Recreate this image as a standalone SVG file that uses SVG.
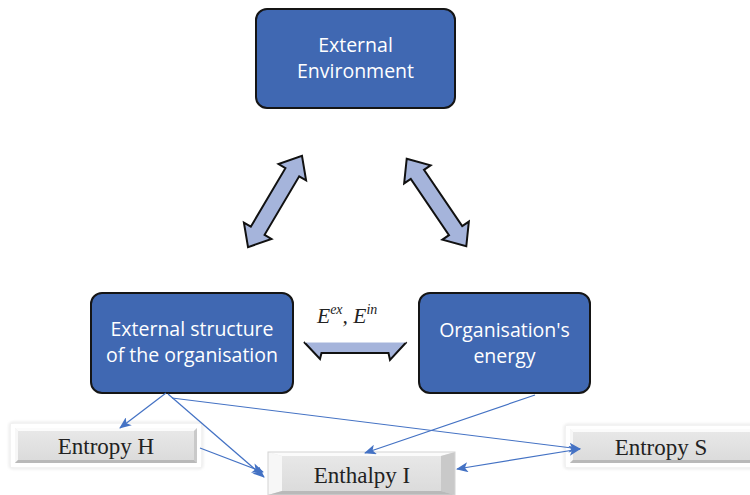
<svg xmlns="http://www.w3.org/2000/svg" width="750" height="495" viewBox="0 0 750 495">
  <style>
    .node { fill: #4068b2; stroke: #151515; stroke-width: 2; }
    .ntext { font-family: "Open Sans", "Noto Sans", sans-serif; font-size: 19.5px; fill: #ffffff; text-anchor: middle; }
    .bigarrow { fill: #a5b4db; stroke: #111111; stroke-width: 2; stroke-linejoin: miter; }
    .link { fill: none; stroke: #4472c4; stroke-width: 1.2; }
    .frame { fill: #ffffff; stroke: #dcdcdc; stroke-width: 1.5; }
    .face { fill: url(#face); }
    .lt { fill: #f7f7f7; }
    .tp { fill: #fbfbfb; }
    .rt { fill: #c9c9c9; }
    .bt { fill: #b9b9b9; }
    .ttext { font-family: "Liberation Serif", "Times New Roman", serif; font-size: 23px; fill: #222222; text-anchor: middle; }
    .math { font-family: "Liberation Serif", "Times New Roman", serif; font-style: italic; fill: #222222; }
  </style>
  <defs>
    <linearGradient id="face" x1="0" y1="0" x2="0" y2="1">
      <stop offset="0" stop-color="#e9e9e9"/>
      <stop offset="1" stop-color="#dadada"/>
    </linearGradient>
    <filter id="soft" x="-10%" y="-20%" width="120%" height="140%">
      <feGaussianBlur stdDeviation="1.5"/>
    </filter>
    <marker id="head" markerWidth="12" markerHeight="10" refX="11" refY="5" orient="auto" markerUnits="userSpaceOnUse">
      <path d="M0,0 L12,5 L0,10 L3,5 Z" fill="#4472c4"/>
    </marker>
    <marker id="tail" markerWidth="12" markerHeight="10" refX="1" refY="5" orient="auto" markerUnits="userSpaceOnUse">
      <path d="M12,0 L0,5 L12,10 L9,5 Z" fill="#4472c4"/>
    </marker>
    <path id="dbl" d="M-53,0 L-34,-16 L-34,-8 L34,-8 L34,-16 L53,0 L34,16 L34,8 L-34,8 L-34,16 Z"/>
  </defs>

  <!-- main blocks -->
  <g id="external-environment">
    <rect class="node" x="256" y="9" width="199" height="99" rx="11"/>
    <text class="ntext" x="355.5" y="52">External</text>
    <text class="ntext" x="355.5" y="78">Environment</text>
  </g>

  <g id="external-structure">
    <rect class="node" x="91" y="293" width="202" height="100" rx="11"/>
    <text class="ntext" x="192" y="336">External structure</text>
    <text class="ntext" x="192" y="362">of the organisation</text>
  </g>

  <g id="organisation-energy">
    <rect class="node" x="419" y="293" width="171" height="100" rx="11"/>
    <text class="ntext" x="504.5" y="337">Organisation's</text>
    <text class="ntext" x="504.5" y="363">energy</text>
  </g>

  <!-- state blocks -->
  <g id="entropy-h">
    <rect class="frame" x="10" y="423" width="192" height="45" rx="3" filter="url(#soft)"/>
    <rect x="11" y="424" width="190" height="43" fill="#ffffff"/>
    <rect class="face" x="15" y="428" width="182" height="35"/>
    <polygon class="tp" points="15,428 197,428 194,431 18,431"/>
    <polygon class="lt" points="15,428 18,431 18,460 15,463"/>
    <polygon class="rt" points="197,428 197,463 194,460 194,431"/>
    <polygon class="bt" points="15,463 18,460 194,460 197,463"/>
    <text class="ttext" x="106" y="454">Entropy H</text>
  </g>

  <g id="entropy-s">
    <rect class="frame" x="565" y="425" width="190" height="43" rx="3" filter="url(#soft)"/>
    <rect x="566" y="426" width="188" height="41" fill="#ffffff"/>
    <rect class="face" x="570" y="429" width="180" height="34"/>
    <polygon class="tp" points="570,429 750,429 750,432 573,432"/>
    <polygon class="lt" points="570,429 573,432 573,460 570,463"/>
    <polygon class="bt" points="570,463 573,460 750,460 750,463"/>
    <text class="ttext" x="661" y="455">Entropy S</text>
  </g>

  <g id="enthalpy-i">
    <rect class="face" x="268" y="452" width="187" height="43"/>
    <polygon class="tp" points="268,452 455,452 441,456 282,456"/>
    <polygon class="lt" points="268,452 282,456 282,491 268,495"/>
    <polygon class="rt" points="455,452 455,495 441,491 441,456"/>
    <polygon class="bt" points="268,495 282,491 441,491 455,495"/>
    <rect x="268" y="452" width="187" height="43" fill="none" stroke="#d4d4d4" stroke-width="1"/>
    <text class="ttext" x="362" y="483">Enthalpy I</text>
  </g>

  <!-- block arrows between the main blocks -->
  <g id="flows">
    <use href="#dbl" class="bigarrow" transform="translate(275,201.5) rotate(-59.4)"/>
    <use href="#dbl" class="bigarrow" transform="translate(436.5,202.5) rotate(55.8)"/>
    <path class="bigarrow" d="M304,342 L320,359 L321.5,353 L388.5,353 L390,360 L406.5,342" stroke-linejoin="miter"/>
    <rect x="305" y="341" width="101" height="1.5" fill="#ffffff"/>
    <text class="math" x="317" y="323" font-size="21.5">E<tspan font-size="14" dy="-9">ex</tspan><tspan font-size="21.5" dy="9">, E</tspan><tspan font-size="14" dy="-9">in</tspan></text>
  </g>

  <!-- connectors -->
  <g id="connectors">
    <line class="link" x1="166" y1="393" x2="120" y2="428" marker-end="url(#head)"/>
    <line class="link" x1="168" y1="394" x2="264" y2="477" marker-end="url(#head)"/>
    <line class="link" x1="200" y1="448" x2="263" y2="472" marker-end="url(#head)"/>
    <line class="link" x1="172" y1="398" x2="580" y2="449" marker-end="url(#head)"/>
    <line class="link" x1="535" y1="395" x2="365" y2="453" marker-end="url(#head)"/>
    <line class="link" x1="457" y1="469" x2="580" y2="449" marker-start="url(#tail)" marker-end="url(#head)"/>
  </g>
</svg>
